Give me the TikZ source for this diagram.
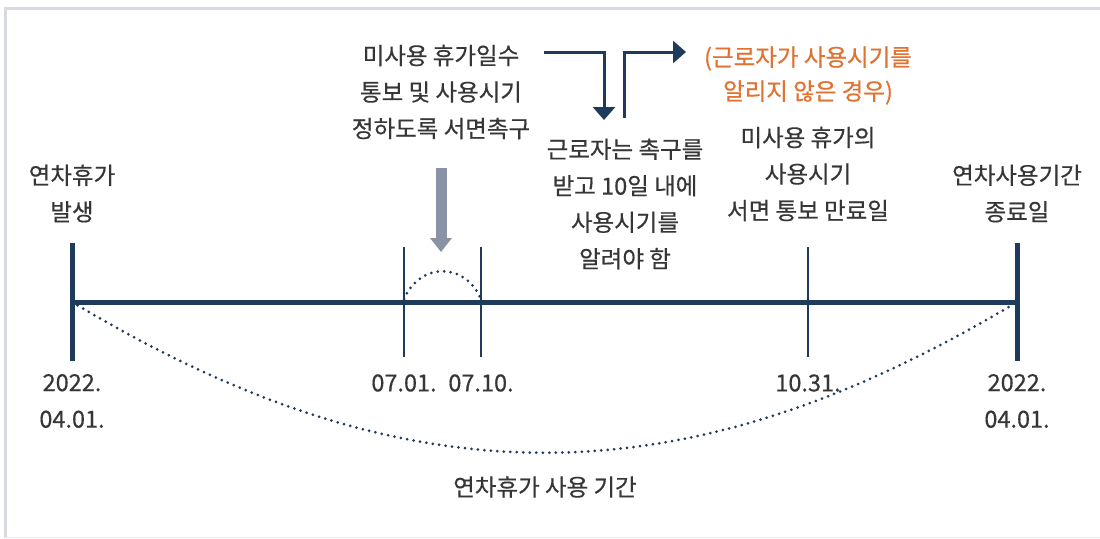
\documentclass[tikz,border=0pt]{standalone}
\usepackage{fontspec}
\setmainfont{Noto Sans CJK KR}[FakeBold=0.5]
\usetikzlibrary{arrows.meta}
\definecolor{navy}{HTML}{1F3B5C}
\definecolor{txt}{HTML}{363636}
\definecolor{orng}{HTML}{E07232}
\definecolor{grayar}{HTML}{8A92A6}
\definecolor{framec}{HTML}{D8DAE2}
\begin{document}
\begin{tikzpicture}[x=1pt,y=-1pt,
  lbl/.style={align=center, text=txt, font=\fontsize{23.5}{36.5}\selectfont, inner sep=0pt},
  olbl/.style={lbl, text=orng, font=\fontsize{23.5}{34}\selectfont},
  thicktick/.style={navy, line width=5pt},
  thintick/.style={navy, line width=2pt},
  dotline/.style={navy, line width=3pt, line cap=round, dash pattern=on 0pt off 6.5pt},
  navyarrow/.style={navy, line width=3pt, -{Triangle[width=22pt,length=13pt]}}]
\useasboundingbox (0,0) rectangle (1100,538);
\fill[white] (0,0) rectangle (1100,538);
% frame
\draw[framec, line width=3pt] (5.5,538) -- (5.5,8) -- (1100,8);
\draw[framec!50, line width=1pt] (5,537) -- (1100,537);

% timeline coordinates
\coordinate (L) at (72,302);
\coordinate (R) at (1017,302);
\coordinate (Ltop) at (72,243);
\coordinate (Lbot) at (72,361);
\coordinate (Rtop) at (1017,243);
\coordinate (Rbot) at (1017,361);
\coordinate (Atop) at (404,247);
\coordinate (Abot) at (404,357);
\coordinate (Btop) at (481,247);
\coordinate (Bbot) at (481,357);
\coordinate (Ctop) at (808,247);
\coordinate (Cbot) at (808,357);
\coordinate (A) at (404,299);
\coordinate (B) at (481,299);

% dotted arcs
\draw[dotline] (A) .. controls (420,262) and (465,262) .. (B);
\draw[dotline] (L) .. controls (407,503) and (682,503) .. (R);

% ticks
\draw[thintick] (Atop) -- (Abot);
\draw[thintick] (Btop) -- (Bbot);
\draw[thintick] (Ctop) -- (Cbot);
\draw[thicktick] (Ltop) -- (Lbot);
\draw[thicktick] (Rtop) -- (Rbot);
% main line
\draw[navy, line width=5pt] (L) -- (R);

% gray arrow
\coordinate (G1) at (441,168);
\coordinate (G2) at (441,252);
\draw[grayar, line width=11pt, -{Triangle[width=21pt,length=14pt]}] (G1) -- (G2);

% navy arrows
\coordinate (N1) at (544,52);
\coordinate (N2) at (604,120);
\coordinate (N3) at (624,118);
\coordinate (N4) at (686,52);
\draw[navyarrow] (N1) -| (N2);
\draw[navyarrow] (N3) |- (N4);

% labels
\node[lbl] (tA) at (441,92) {미사용 휴가일수\\통보 및 사용시기\\정하도록 서면촉구};
\node[lbl] (tB) at (625,204) {근로자는 촉구를\\받고 10일 내에\\사용시기를\\알려야 함};
\node[olbl] (tO) at (808,75.5) {(근로자가 사용시기를\\알리지 않은 경우)};
\node[lbl] (tC) at (808,174) {미사용 휴가의\\사용시기\\서면 통보 만료일};
\node[lbl] (tL) at (72,193.5) {연차휴가\\발생};
\node[lbl] (tR) at (1017,193.5) {연차사용기간\\종료일};
\node[lbl] (dL) at (72,401) {2022.\\04.01.};
\node[lbl] (dA) at (404,383) {07.01.};
\node[lbl] (dB) at (481,383) {07.10.};
\node[lbl] (dC) at (808,383) {10.31.};
\node[lbl] (dR) at (1017,401) {2022.\\04.01.};
\node[lbl] (tBot) at (545,487) {연차휴가 사용 기간};
\end{tikzpicture}
\end{document}
